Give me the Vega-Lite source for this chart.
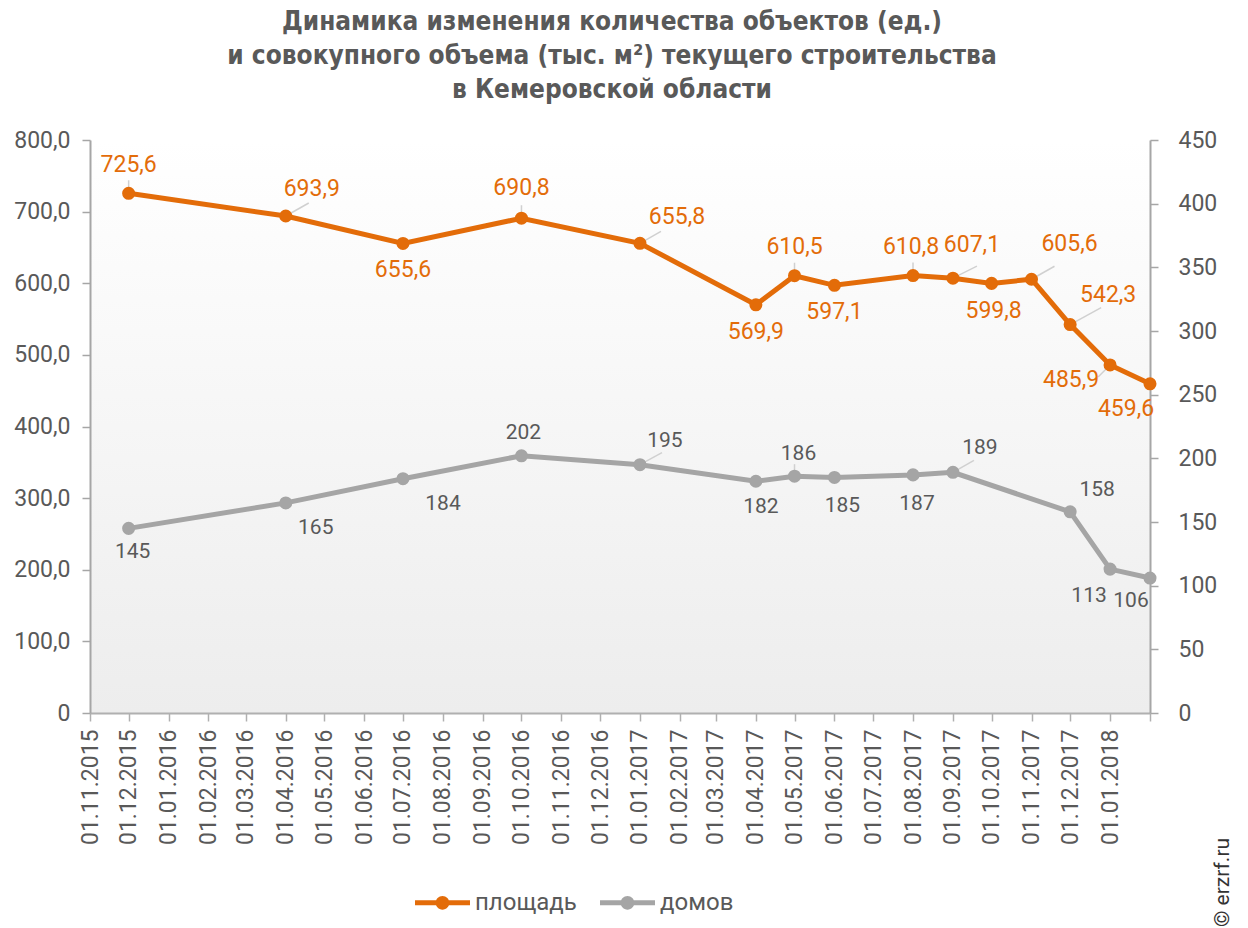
{
  "$schema": "https://vega.github.io/schema/vega-lite/v6.json",
  "width": 1060,
  "height": 573,
  "autosize": {"type": "none"},
  "padding": {"left": 90, "top": 140, "right": 98, "bottom": 215},
  "background": "#ffffff",
  "config": {
    "font": "Roboto",
    "locale": {"number": {"decimal": ",", "thousands": " ", "grouping": [3], "currency": ["", ""]}},
    "view": {
      "stroke": null,
      "fill": {"gradient": "linear", "x1": 0, "y1": 0, "x2": 0, "y2": 1,
        "stops": [{"offset": 0, "color": "#ffffff"}, {"offset": 1, "color": "#ededed"}]}
    }
  },
  "title": {
    "text": ["Динамика изменения количества объектов (ед.)", "и совокупного объема (тыс. м²) текущего строительства", "в Кемеровской области"],
    "font": "Liberation Sans Narrow, DejaVu Sans Condensed, Roboto",
    "fontSize": 26,
    "fontWeight": "bold",
    "color": "#595959",
    "lineHeight": 34,
    "anchor": "middle",
    "offset": 26,
    "dx": -8
  },
  "data": {
    "values": [
      {"date": "2015-12-01", "series": "площадь", "value": 725.6},
      {"date": "2016-04-01", "series": "площадь", "value": 693.9},
      {"date": "2016-07-01", "series": "площадь", "value": 655.6},
      {"date": "2016-10-01", "series": "площадь", "value": 690.8},
      {"date": "2017-01-01", "series": "площадь", "value": 655.8},
      {"date": "2017-04-01", "series": "площадь", "value": 569.9},
      {"date": "2017-05-01", "series": "площадь", "value": 610.5},
      {"date": "2017-06-01", "series": "площадь", "value": 597.1},
      {"date": "2017-08-01", "series": "площадь", "value": 610.8},
      {"date": "2017-09-01", "series": "площадь", "value": 607.1},
      {"date": "2017-10-01", "series": "площадь", "value": 599.8},
      {"date": "2017-11-01", "series": "площадь", "value": 605.6},
      {"date": "2017-12-01", "series": "площадь", "value": 542.3},
      {"date": "2018-01-01", "series": "площадь", "value": 485.9},
      {"date": "2018-02-01", "series": "площадь", "value": 459.6},
      {"date": "2015-12-01", "series": "домов", "value": 145},
      {"date": "2016-04-01", "series": "домов", "value": 165},
      {"date": "2016-07-01", "series": "домов", "value": 184},
      {"date": "2016-10-01", "series": "домов", "value": 202},
      {"date": "2017-01-01", "series": "домов", "value": 195},
      {"date": "2017-04-01", "series": "домов", "value": 182},
      {"date": "2017-05-01", "series": "домов", "value": 186},
      {"date": "2017-06-01", "series": "домов", "value": 185},
      {"date": "2017-08-01", "series": "домов", "value": 187},
      {"date": "2017-09-01", "series": "домов", "value": 189},
      {"date": "2017-12-01", "series": "домов", "value": 158},
      {"date": "2018-01-01", "series": "домов", "value": 113},
      {"date": "2018-02-01", "series": "домов", "value": 106}
    ]
  },
  "encoding": {
    "x": {
      "field": "date",
      "type": "temporal",
      "scale": {"type": "utc", "domain": [{"year": 2015, "month": 11, "date": 1, "utc": true}, {"year": 2018, "month": 2, "date": 1, "utc": true}]},
      "axis": {
        "title": null,
        "grid": false,
        "tickCount": {"interval": "month", "step": 1},
        "format": "%d.%m.%Y",
        "labelExpr": "datum.value >= 1517443200000 ? '' : datum.label",
        "labelAngle": 270,
        "labelAlign": "right",
        "labelBaseline": "middle",
        "labelFontSize": 23,
        "labelColor": "#595959",
        "labelPadding": 8,
        "labelOverlap": false,
        "labelFlush": false,
        "domainColor": "#b0b0b0",
        "domainWidth": 2,
        "tickColor": "#b0b0b0",
        "tickWidth": 1.5,
        "tickSize": 8
      }
    }
  },
  "layer": [
    {
      "transform": [{"filter": "datum.series === 'площадь'"}],
      "encoding": {
        "y": {
          "field": "value",
          "type": "quantitative",
          "scale": {"domain": [0, 800], "nice": false},
          "axis": {
            "orient": "left",
            "title": null,
            "grid": false,
            "values": [0, 100, 200, 300, 400, 500, 600, 700, 800],
            "format": ".1f",
            "labelExpr": "datum.value === 0 ? '0' : datum.label",
            "labelFontSize": 23,
            "labelColor": "#595959",
            "labelPadding": 12,
            "domainColor": "#a6a6a6",
            "domainWidth": 2,
            "tickColor": "#a6a6a6",
            "tickWidth": 1.5,
            "tickSize": 8
          }
        }
      },
      "layer": [
        {
          "mark": {
            "type": "rule",
            "color": "#d0d0d0",
            "strokeWidth": 1.5,
            "x2Offset": {"expr": "[0,0,0,0,23,0,0,0,0,0,0,0,0,21,0,0,0,0,0,0,0,24,0,23,31,-12,0][(utcyear(datum.date)-2015)*12+utcmonth(datum.date)-11]"},
            "y2Offset": {"expr": "[-13,0,0,0,-13,0,0,0,0,0,-13,0,0,-12,0,0,0,-13,0,0,-13,-12,0,-13,-17,12,0][(utcyear(datum.date)-2015)*12+utcmonth(datum.date)-11]"}
          },
          "encoding": {"x2": {"field": "date"}, "y2": {"field": "value"}}
        },
        {"mark": {"type": "line", "color": "#E36C09", "strokeWidth": 5}},
        {
          "mark": {"type": "point", "filled": true, "size": 170, "opacity": 1, "strokeWidth": 0},
          "encoding": {
            "color": {
              "field": "series",
              "type": "nominal",
              "scale": {"domain": ["площадь", "домов"], "range": ["#E36C09", "#A5A5A5"]},
              "legend": {
                "orient": "none",
                "legendX": 325,
                "legendY": 735,
                "direction": "horizontal",
                "title": null,
                "labelFontSize": 24,
                "labelColor": "#595959",
                "symbolType": "M-1,-0.09H1V0.09H-1Z M0.25,0A0.25,0.25,0,1,1,-0.25,0A0.25,0.25,0,1,1,0.25,0Z",
                "symbolSize": 3025,
                "symbolStrokeWidth": 0,
                "columnPadding": 23,
                "labelOffset": 5
              }
            }
          }
        },
        {
          "mark": {
            "type": "text",
            "fontSize": 23,
            "color": "#E36C09",
            "align": "center",
            "baseline": "middle",
            "dx": {"expr": "[0,0,0,0,26,0,0,0,0,0,0,0,0,37,0,0,0,0,0,0,-2,19,2,38,38,-39,-24][(utcyear(datum.date)-2015)*12+utcmonth(datum.date)-11]"},
            "dy": {"expr": "[-28,0,0,0,-27,0,0,27,0,0,-30,0,0,-26,0,0,27,-29,27,0,-29,-33,28,-35,-30,15,25][(utcyear(datum.date)-2015)*12+utcmonth(datum.date)-11]"}
          },
          "encoding": {"text": {"field": "value", "type": "quantitative", "format": ".1f"}}
        }
      ]
    },
    {
      "transform": [{"filter": "datum.series === 'домов'"}],
      "encoding": {
        "y": {
          "field": "value",
          "type": "quantitative",
          "scale": {"domain": [0, 450], "nice": false},
          "axis": {
            "orient": "right",
            "title": "© erzrf.ru",
            "titleAngle": 270,
            "titleX": 72,
            "titleY": 742,
            "titleAlign": "center",
            "titleBaseline": "middle",
            "titleFontSize": 21,
            "titleFontWeight": "normal",
            "titleColor": "#333333",
            "grid": false,
            "values": [0, 50, 100, 150, 200, 250, 300, 350, 400, 450],
            "labelFontSize": 23,
            "labelColor": "#595959",
            "labelPadding": 20,
            "domainColor": "#a6a6a6",
            "domainWidth": 2,
            "tickColor": "#a6a6a6",
            "tickWidth": 1.5,
            "tickSize": 8
          }
        }
      },
      "layer": [
        {
          "mark": {
            "type": "rule",
            "color": "#d0d0d0",
            "strokeWidth": 1.5,
            "x2Offset": {"expr": "[0,0,0,0,0,0,0,0,0,0,0,0,0,22,0,0,0,0,0,0,0,21,0,0,0,0,0][(utcyear(datum.date)-2015)*12+utcmonth(datum.date)-11]"},
            "y2Offset": {"expr": "[0,0,0,0,0,0,0,0,0,0,0,0,0,-12,0,0,0,-12,0,0,0,-12,0,0,0,0,0][(utcyear(datum.date)-2015)*12+utcmonth(datum.date)-11]"}
          },
          "encoding": {"x2": {"field": "date"}, "y2": {"field": "value"}}
        },
        {"mark": {"type": "line", "color": "#A5A5A5", "strokeWidth": 5}},
        {
          "mark": {"type": "point", "filled": true, "size": 170, "opacity": 1, "strokeWidth": 0},
          "encoding": {
            "color": {
              "field": "series",
              "type": "nominal",
              "scale": {"domain": ["площадь", "домов"], "range": ["#E36C09", "#A5A5A5"]}
            }
          }
        },
        {
          "mark": {
            "type": "text",
            "fontSize": 21,
            "color": "#595959",
            "align": "center",
            "baseline": "middle",
            "dx": {"expr": "[4,0,0,0,30,0,0,40,0,0,2,0,0,25,0,0,5,4,8,0,4,27,0,0,27,-21,-19][(utcyear(datum.date)-2015)*12+utcmonth(datum.date)-11]"},
            "dy": {"expr": "[24,0,0,0,25,0,0,25,0,0,-23,0,0,-24,0,0,26,-22,29,0,29,-24,0,0,-22,27,23][(utcyear(datum.date)-2015)*12+utcmonth(datum.date)-11]"}
          },
          "encoding": {"text": {"field": "value", "type": "quantitative", "format": "d"}}
        }
      ]
    }
  ],
  "resolve": {"scale": {"y": "independent"}}
}
